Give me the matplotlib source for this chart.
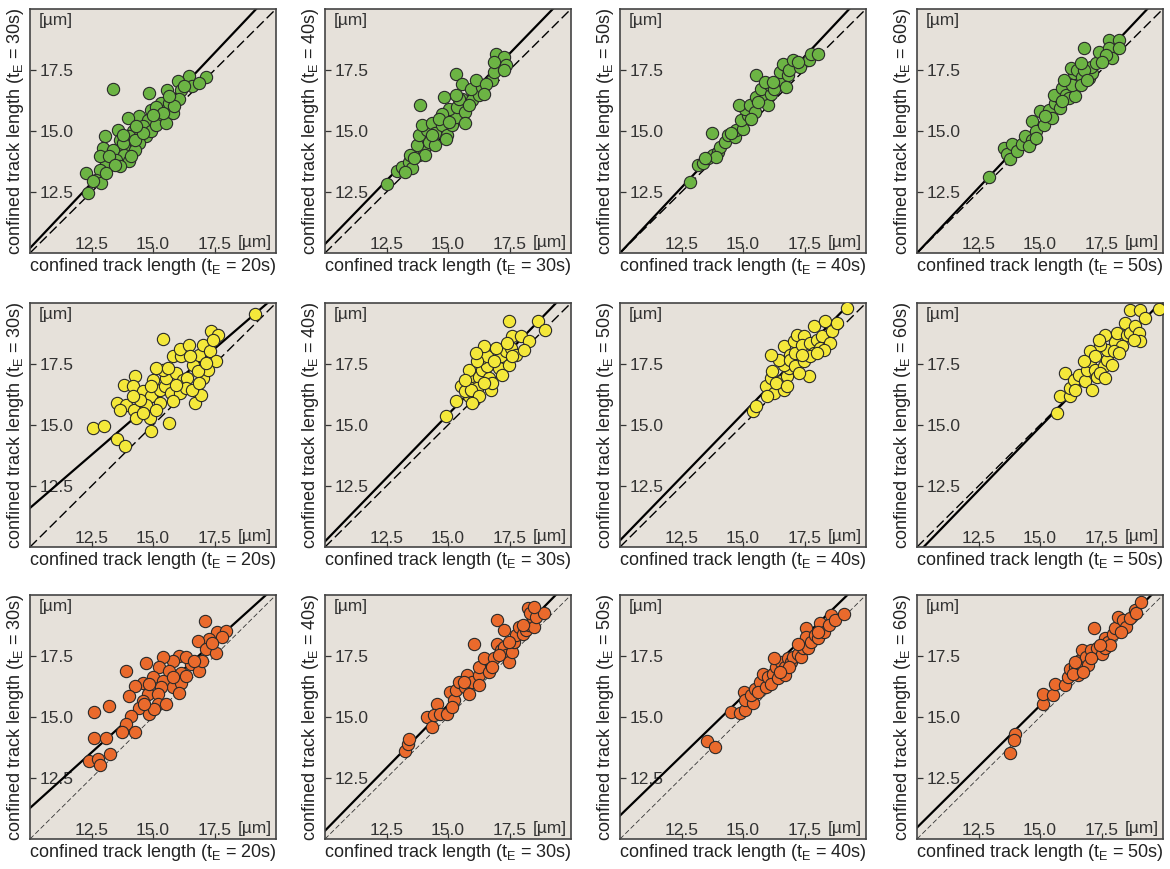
import matplotlib
matplotlib.use("Agg")
import matplotlib.pyplot as plt

plt.rcParams["font.family"] = ["Liberation Sans", "DejaVu Sans"]
plt.rcParams["mathtext.fontset"] = "custom"
plt.rcParams["mathtext.rm"] = "Liberation Sans"
plt.rcParams["mathtext.it"] = "Liberation Sans"

# sampling intervals (x axis t_E, y axis t_E) for the four columns
x_times = [20, 30, 40, 50]
y_times = [30, 40, 50, 60]
ticks = [12.5, 15.0, 17.5]
tick_labels = ["12.5", "15.0", "17.5"]

# row 1 (green)
g_20_30_x = [13.37, 17.14, 16.47, 16.0, 16.13, 16.58, 15.57, 14.85, 16.06, 15.32, 14.92, 14.45, 13.98, 15.26,
             14.78, 15.53, 15.66, 15.12, 14.58, 13.57, 13.03, 14.18, 14.72, 14.04, 13.64, 14.45, 13.84, 12.96,
             13.37, 14.25, 13.84, 13.5, 13.1, 14.04, 12.83, 13.64, 12.83, 12.29, 12.7, 12.9, 12.36, 13.23,
             14.25, 14.92, 15.12, 15.53, 15.8, 15.86, 15.39, 14.99, 14.58, 13.77, 13.44, 13.1, 14.11, 15.66,
             16.26, 16.87, 13.77, 14.31, 12.56]
g_20_30_y = [16.72, 17.21, 17.24, 17.03, 16.69, 16.86, 16.67, 16.56, 16.31, 16.15, 15.87, 15.6, 15.53, 15.53,
             15.46, 15.87, 16.15, 16.0, 15.19, 15.05, 14.78, 14.99, 14.78, 14.78, 14.64, 14.5, 14.37, 14.3,
             14.23, 14.23, 14.03, 13.83, 13.69, 13.76, 13.96, 13.55, 13.42, 13.28, 13.0, 12.87, 12.46, 13.96,
             14.64, 14.99, 15.26, 15.33, 15.74, 16.01, 15.74, 15.67, 14.92, 14.5, 13.62, 13.28, 13.96, 16.42,
             16.83, 16.97, 14.85, 15.19, 12.94]

g_30_40_x = [12.52, 12.93, 13.13, 13.4, 13.54, 13.81, 14.01, 13.74, 14.22, 13.81, 14.15, 13.95, 14.35, 14.49,
             14.76, 14.97, 15.17, 15.31, 15.03, 14.83, 13.88, 15.31, 15.58, 15.58, 15.37, 15.71, 15.71, 15.99,
             16.26, 15.92, 16.39, 16.12, 16.8, 16.53, 16.87, 16.94, 17.28, 16.87, 17.35, 17.28, 14.76, 14.49,
             14.63, 14.9, 14.08, 13.47, 15.44, 14.35, 15.03, 15.85, 15.31, 13.27, 13.61, 16.46]
g_30_40_y = [12.82, 13.36, 13.54, 13.74, 13.5, 14.01, 14.22, 14.42, 14.56, 14.83, 15.03, 15.24, 15.31, 14.9,
             15.24, 14.83, 15.24, 15.58, 15.92, 16.39, 16.05, 17.35, 16.94, 16.33, 15.99, 15.78, 15.31, 16.26,
             16.46, 16.73, 16.8, 17.07, 17.07, 16.94, 17.41, 18.16, 18.03, 17.82, 17.69, 17.48, 15.71, 14.42,
             15.51, 14.69, 14.01, 14.01, 16.33, 14.83, 15.37, 16.05, 16.46, 13.33, 13.88, 16.53]

g_40_50_x = [12.84, 13.18, 13.38, 13.58, 13.78, 13.99, 13.72, 14.05, 14.26, 14.39, 14.66, 14.73, 15.0, 14.93,
             15.2, 15.07, 14.82, 15.27, 15.47, 15.54, 15.54, 15.88, 15.74, 16.01, 16.15, 16.08, 16.42, 16.28,
             16.62, 16.49, 16.69, 16.62, 16.82, 16.89, 17.03, 17.3, 17.7, 17.77, 18.04, 17.23, 16.76, 15.61,
             14.53, 13.92, 13.45, 15.34, 15.88, 16.22]
g_40_50_y = [12.93, 13.61, 13.67, 13.88, 14.01, 14.15, 14.9, 14.35, 14.56, 14.83, 14.76, 15.03, 15.1, 15.44,
             15.65, 15.92, 16.05, 16.05, 15.78, 16.39, 17.28, 16.33, 16.73, 16.05, 16.53, 16.87, 17.01, 16.71,
             17.07, 17.41, 17.69, 17.76, 17.28, 17.48, 17.89, 17.62, 17.89, 18.16, 18.16, 17.82, 16.8, 16.19,
             14.9, 13.95, 13.88, 15.51, 17.01, 17.01]

g_50_60_x = [12.92, 13.53, 13.66, 13.8, 13.87, 14.07, 14.27, 14.41, 14.68, 14.68, 14.82, 15.16, 15.02, 15.36,
             15.5, 15.63, 15.83, 15.56, 15.9, 16.04, 16.17, 16.44, 16.31, 15.97, 16.38, 16.24, 16.51, 16.72,
             16.65, 16.99, 17.12, 17.06, 17.26, 16.78, 17.39, 17.8, 17.8, 17.94, 18.21, 18.21, 17.67, 17.53,
             15.83, 15.22, 14.55, 14.82, 16.78, 16.92, 16.65, 15.9]
g_50_60_y = [13.12, 14.31, 14.04, 13.84, 14.45, 14.18, 14.45, 14.79, 14.65, 15.4, 14.99, 15.26, 15.81, 15.88,
             15.54, 16.15, 16.35, 16.49, 16.76, 16.49, 16.35, 16.42, 16.89, 17.1, 17.37, 17.57, 17.5, 17.23,
             16.89, 17.16, 17.37, 17.64, 17.77, 18.39, 18.25, 18.72, 18.39, 17.98, 18.72, 18.39, 18.11, 17.84,
             15.94, 15.6, 14.38, 14.72, 17.5, 17.1, 17.77, 16.21]

# row 2 (yellow)
y_20_30_x = [19.16, 12.57, 13.0, 13.54, 13.85, 14.93, 15.65, 15.41, 13.54, 13.81, 14.26, 14.19, 13.89, 14.22,
             14.32, 14.86, 14.59, 14.93, 14.73, 15.27, 15.14, 14.46, 15.27, 15.47, 15.74, 15.54, 15.41, 15.95,
             16.22, 15.81, 16.15, 16.08, 16.46, 16.62, 16.39, 16.69, 16.96, 17.03, 16.89, 17.05, 17.36, 17.64,
             17.3, 17.57, 17.23, 16.82, 16.08, 15.81, 16.35, 15.0, 15.14, 14.93, 16.59, 15.95, 16.89, 17.16,
             16.49, 14.19, 13.65, 14.59, 15.61, 17.43]
y_20_30_y = [19.56, 14.88, 14.95, 14.44, 14.13, 14.74, 15.08, 18.52, 15.9, 16.65, 17.02, 16.58, 15.83, 15.63,
             15.29, 15.29, 16.38, 16.17, 15.83, 15.9, 15.63, 16.04, 16.45, 16.58, 16.31, 16.93, 17.27, 17.13,
             16.86, 17.81, 17.84, 18.11, 18.29, 17.47, 16.93, 15.9, 16.24, 16.93, 17.88, 18.29, 18.84, 18.7,
             18.02, 17.61, 17.27, 17.2, 16.31, 15.97, 16.52, 16.86, 17.34, 16.58, 16.45, 16.65, 16.72, 17.54,
             17.81, 16.17, 15.63, 15.49, 17.34, 18.5]

y_30_40_x = [14.93, 15.31, 15.51, 15.85, 15.85, 16.05, 15.71, 15.92, 15.85, 16.26, 16.19, 16.39, 16.73, 16.67,
             16.6, 16.33, 16.6, 16.46, 17.07, 17.14, 17.35, 17.48, 17.55, 17.62, 17.48, 17.96, 18.3, 18.64,
             18.94, 16.94, 16.87, 16.19, 16.12, 15.92, 16.26, 16.8, 17.21, 17.76, 18.1, 17.41, 15.71, 16.46,
             17.62, 15.99]
y_30_40_y = [15.38, 15.97, 16.58, 16.17, 16.75, 16.04, 16.38, 16.99, 17.27, 16.97, 16.52, 17.27, 16.45, 16.93,
             17.4, 17.75, 17.81, 18.22, 17.34, 17.81, 18.02, 17.47, 18.16, 18.63, 19.25, 18.63, 18.43, 19.25,
             18.91, 18.16, 17.61, 17.61, 17.95, 16.45, 16.17, 16.72, 17.06, 17.88, 18.09, 18.36, 16.86, 16.72,
             17.81, 15.9]

y_40_50_x = [15.41, 15.52, 15.92, 16.26, 16.12, 16.19, 16.66, 16.53, 16.8, 16.86, 16.66, 16.46, 16.15, 16.66,
             16.93, 16.93, 17.13, 17.13, 17.07, 17.2, 17.47, 17.4, 17.74, 17.87, 17.47, 17.67, 17.87, 18.01,
             18.21, 18.14, 18.34, 18.61, 18.82, 18.55, 19.22, 17.74, 17.4, 16.33, 16.8, 17.27, 18.28, 18.01,
             15.99]
y_40_50_y = [15.56, 15.77, 16.58, 16.31, 16.93, 17.2, 16.45, 16.79, 16.99, 17.34, 17.47, 17.68, 17.88, 18.22,
             17.88, 17.68, 17.95, 17.4, 18.43, 18.7, 18.63, 18.29, 18.36, 19.04, 17.61, 16.99, 17.95, 18.5,
             18.63, 18.16, 19.25, 18.84, 19.18, 18.36, 19.8, 17.81, 17.88, 16.72, 16.58, 17.13, 18.09, 17.95,
             16.17]

y_50_60_x = [15.69, 15.83, 16.21, 16.23, 16.03, 16.4, 16.57, 16.44, 16.84, 16.91, 17.05, 17.25, 17.32, 17.59,
             17.45, 17.72, 17.93, 17.72, 17.45, 17.66, 17.38, 18.06, 18.13, 18.47, 18.54, 18.67, 18.88, 19.01,
             19.08, 18.67, 19.08, 19.28, 19.82, 18.33, 17.05, 17.25, 17.99, 16.77, 17.11, 17.66, 18.2, 18.81]
y_50_60_y = [15.49, 16.2, 16.2, 16.52, 17.13, 16.83, 17.06, 16.45, 16.79, 17.27, 17.61, 17.27, 16.97, 17.4,
             17.13, 17.68, 17.47, 18.09, 18.29, 18.7, 18.5, 18.39, 18.77, 19.18, 18.7, 18.77, 19.04, 18.77,
             18.43, 19.73, 19.73, 19.39, 19.75, 18.22, 18.02, 17.81, 18.02, 17.61, 16.45, 16.93, 17.95, 18.5]

# row 3 (orange)
o_20_30_x = [17.1, 17.61, 17.95, 17.82, 17.28, 16.81, 17.14, 16.54, 16.06, 15.8, 15.39, 15.26, 15.66, 16.13,
             16.33, 14.72, 13.91, 14.99, 15.39, 15.8, 16.13, 15.32, 14.58, 14.25, 14.04, 14.78, 15.19, 14.58,
             15.19, 14.45, 14.85, 15.05, 14.11, 13.91, 13.75, 14.25, 13.23, 12.59, 12.59, 13.1, 12.4, 12.76,
             12.83, 13.26, 16.87, 17.55, 16.33, 17.01, 15.8, 14.85, 14.65, 15.53, 16.06, 16.67, 17.41]
o_20_30_y = [18.92, 18.47, 18.53, 18.26, 18.19, 18.12, 17.78, 17.16, 17.51, 17.3, 17.47, 17.03, 16.89, 16.82,
             17.44, 17.23, 16.89, 16.62, 16.48, 16.21, 16.41, 16.21, 16.41, 16.27, 15.86, 15.93, 15.93, 15.66,
             15.55, 15.38, 15.11, 15.32, 15.04, 14.7, 14.4, 14.4, 15.45, 15.22, 14.12, 14.15, 13.19, 13.26,
             13.05, 13.47, 16.89, 17.64, 16.68, 17.3, 16.62, 16.34, 15.52, 15.52, 16.0, 17.3, 18.05]

o_30_40_x = [13.27, 13.38, 13.43, 14.15, 14.35, 14.56, 14.42, 14.69, 14.97, 15.1, 15.24, 15.31, 15.17, 15.44,
             15.71, 15.85, 15.78, 15.99, 16.26, 16.26, 16.46, 16.05, 16.67, 16.87, 17.01, 17.01, 17.14, 17.28,
             17.35, 17.48, 17.62, 17.28, 17.69, 17.76, 17.89, 18.03, 18.16, 18.3, 18.44, 18.27, 18.33, 18.5,
             18.57, 18.91, 18.5, 16.26, 15.65, 16.8, 17.48, 17.07, 18.03]
o_30_40_y = [13.59, 13.9, 14.11, 15.0, 14.59, 15.55, 15.07, 15.14, 15.14, 16.03, 15.68, 16.1, 15.41, 16.44,
             16.23, 15.96, 16.71, 16.44, 16.71, 17.05, 17.4, 18.01, 16.85, 17.4, 18.97, 18.01, 17.74, 17.88,
             17.53, 17.26, 17.67, 18.56, 18.08, 18.36, 18.7, 18.42, 18.56, 18.77, 19.04, 19.45, 19.25, 18.7,
             19.11, 19.25, 19.52, 16.3, 16.44, 17.05, 18.08, 17.53, 18.77]

o_40_50_x = [13.55, 13.85, 14.5, 14.86, 15.07, 15.04, 15.07, 15.41, 15.34, 15.47, 15.68, 15.81, 15.61, 15.95,
             16.01, 16.22, 16.15, 16.35, 16.42, 16.55, 16.69, 16.82, 16.69, 16.96, 17.03, 17.23, 17.36, 17.43,
             17.57, 17.57, 17.64, 17.77, 17.91, 18.04, 18.11, 18.31, 18.58, 18.51, 18.72, 19.12, 18.04, 17.23,
             16.89, 16.49, 16.28]
o_40_50_y = [14.01, 13.79, 15.21, 15.16, 15.27, 16.03, 15.68, 15.58, 15.89, 16.16, 16.44, 16.78, 16.03, 16.23,
             16.64, 16.78, 16.37, 17.05, 16.58, 17.26, 17.05, 17.4, 16.71, 17.26, 17.47, 17.6, 17.47, 17.81,
             18.63, 18.29, 17.81, 18.08, 18.36, 18.22, 18.84, 18.49, 19.18, 18.77, 18.97, 19.22, 18.49, 18.01,
             17.05, 16.85, 17.4]

o_50_60_x = [13.78, 13.99, 13.96, 15.14, 15.14, 15.54, 15.61, 16.01, 16.12, 16.22, 16.42, 16.55, 16.35, 16.62,
             16.69, 16.76, 16.89, 16.96, 17.09, 17.2, 17.3, 17.5, 17.64, 17.64, 17.77, 17.97, 18.04, 18.18,
             18.38, 18.51, 18.65, 18.85, 18.92, 19.12, 18.31, 17.84, 17.09, 16.76, 16.42, 17.43]
o_50_60_y = [13.52, 14.32, 14.04, 15.55, 15.96, 15.89, 16.34, 16.3, 16.64, 16.95, 17.05, 16.71, 16.78, 17.33,
             17.74, 17.05, 17.47, 17.12, 17.74, 18.63, 17.81, 17.6, 17.81, 18.22, 18.08, 18.42, 18.63, 19.11,
             18.97, 18.7, 19.04, 19.38, 19.25, 19.73, 18.49, 17.95, 17.4, 16.85, 17.26, 17.95]

# fitted line (slope, intercept)
fit_slope = [[1.066, 1.04, 1.073, 1.068],
             [0.87, 1.04, 1.04, 1.04],
             [0.91, 1.03, 0.978, 1.0]]
fit_intercept = [[-0.46, -0.03, -0.73, -0.68],
                 [2.9, -0.17, -0.13, -0.68],
                 [2.17, 0.04, 1.18, 0.47]]

panels = [
    [(g_20_30_x, g_20_30_y), (g_30_40_x, g_30_40_y), (g_40_50_x, g_40_50_y), (g_50_60_x, g_50_60_y)],
    [(y_20_30_x, y_20_30_y), (y_30_40_x, y_30_40_y), (y_40_50_x, y_40_50_y), (y_50_60_x, y_50_60_y)],
    [(o_20_30_x, o_20_30_y), (o_30_40_x, o_30_40_y), (o_40_50_x, o_40_50_y), (o_50_60_x, o_50_60_y)],
]
row_colors = ["#6cb444", "#f4e83a", "#ea6a2c"]
bg = "#e6e1da"
lim = (10.0, 20.0)

W, H = 1170, 869
fig = plt.figure(figsize=(W / 100, H / 100), dpi=100)
lefts = [30, 325, 620, 917]
tops = [9, 303, 595]
aw, ah = 246, 244

for r in range(3):
    for c in range(4):
        ax = fig.add_axes([lefts[c] / W, 1 - (tops[r] + ah) / H, aw / W, ah / H])
        ax.set_facecolor(bg)
        ax.set_xlim(*lim)
        ax.set_ylim(*lim)

        if r == 2:
            ax.plot(lim, lim, color="#333333", lw=0.6, ls=(0, (6, 3)), zorder=2)
        else:
            ax.plot(lim, lim, color="black", lw=1.0, ls=(0, (7, 3)), zorder=2)
        a, b = fit_slope[r][c], fit_intercept[r][c]
        ax.plot(lim, [a * lim[0] + b, a * lim[1] + b], color="black", lw=1.6, zorder=2)

        xs, ys = panels[r][c]
        ax.scatter(xs, ys, s=78, color=row_colors[r], edgecolor="#2a2a2a", linewidth=0.8, zorder=3)

        ax.set_xticks(ticks)
        ax.set_xticklabels(tick_labels)
        ax.set_yticks(ticks)
        ax.set_yticklabels(tick_labels)
        ax.tick_params(axis="both", direction="in", length=4, width=0.9, colors="#333333",
                       labelsize=12.5, labelcolor="#333333")
        ax.tick_params(axis="y", pad=-7)
        ax.tick_params(axis="x", pad=-1)
        for lab in ax.get_yticklabels():
            lab.set_horizontalalignment("left")
        for lab in ax.get_xticklabels():
            lab.set_verticalalignment("bottom")

        ax.text(0.035, 0.985, "[µm]", transform=ax.transAxes, ha="left", va="top",
                fontsize=12.5, color="#333333")
        ax.text(0.985, 0.012, "[µm]", transform=ax.transAxes, ha="right", va="bottom",
                fontsize=12.5, color="#333333")

        for sp in ax.spines.values():
            sp.set_color("#444444")
            sp.set_linewidth(1.2)

        ax.set_xlabel(f"confined track length (t$_\\mathrm{{E}}$ = {x_times[c]}s)",
                      fontsize=13, color="#222222", labelpad=2)
        ax.set_ylabel(f"confined track length (t$_\\mathrm{{E}}$ = {y_times[c]}s)",
                      fontsize=13, color="#222222", labelpad=3)

fig.savefig("out.png", dpi=100)
